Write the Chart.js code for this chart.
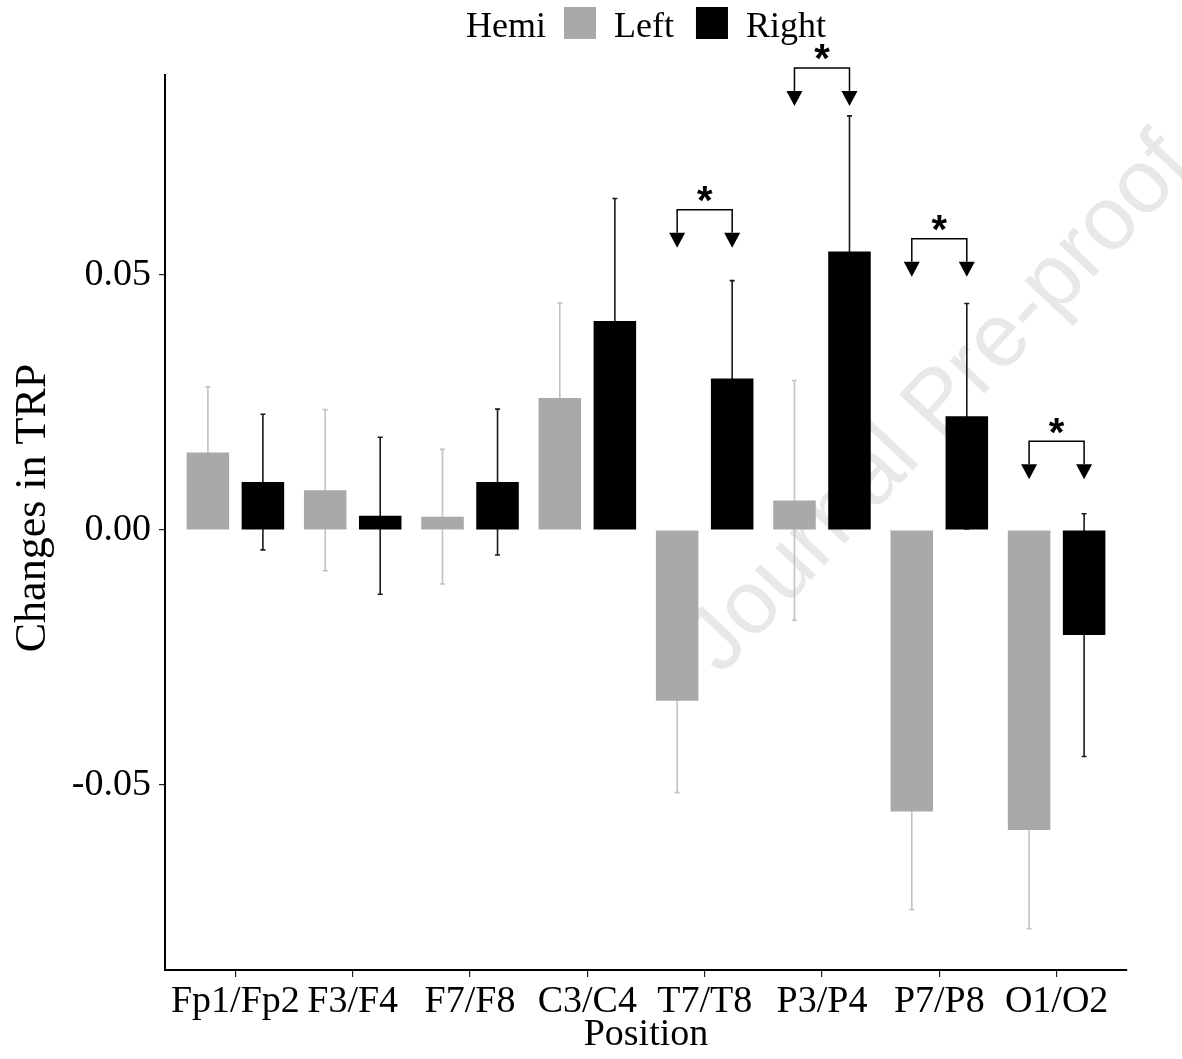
<!DOCTYPE html>
<html><head><meta charset="utf-8">
<script src="https://cdn.jsdelivr.net/npm/chart.js@4.4.1/dist/chart.umd.min.js"></script>
<style>html,body{margin:0;padding:0;background:#fff;} #wrap{width:1182px;height:1059px;position:relative;}</style>
</head><body><div id="wrap"><canvas id="c"></canvas></div>
<script>
const categories = ['Fp1/Fp2','F3/F4','F7/F8','C3/C4','T7/T8','P3/P4','P7/P8','O1/O2'];
const seriesNames = ['Left','Right'];
const leftMeans  = [0.0152, 0.0078, 0.0026, 0.0259, -0.0335, 0.0058, -0.0552, -0.0588];
const leftSE     = [0.0129, 0.0158, 0.0132, 0.0186, 0.0180, 0.0235, 0.0192, 0.0194];
const rightMeans = [0.0094, 0.0028, 0.0094, 0.0410, 0.0297, 0.0546, 0.0223, -0.0206];
const rightSE    = [0.0133, 0.0154, 0.0143, 0.0240, 0.0192, 0.0266, 0.0221, 0.0238];
const yTickValues = [-0.05, 0, 0.05];
const sigCategories = ['T7/T8','P3/P4','P7/P8','O1/O2'];
const sigLevels = [0.0628, 0.0906, 0.0571, 0.0174];
const legendTitle = 'Hemi';
const xTitle = 'Position';
const yTitle = 'Changes in TRP';
const watermarkText = 'Journal Pre-proof';

const SERIF = '"Liberation Serif", "Times New Roman", serif';

const watermarkPlugin = {
  id: 'watermark',
  beforeDatasetsDraw(chart) {
    const ctx = chart.ctx;
    ctx.save();
    ctx.translate(940, 405);
    ctx.rotate(-47 * Math.PI / 180);
    ctx.font = '90px "Liberation Sans", Arial, sans-serif';
    ctx.fillStyle = '#e8e8e8';
    ctx.textAlign = 'center';
    ctx.textBaseline = 'middle';
    ctx.fillText(watermarkText, 0, 0);
    ctx.restore();
  }
};

const errorBarPlugin = {
  id: 'errorBars',
  beforeDatasetsDraw(chart) {
    const ctx = chart.ctx;
    const ys = chart.scales.y;
    chart.data.datasets.forEach((ds, di) => {
      const meta = chart.getDatasetMeta(di);
      ctx.save();
      ctx.strokeStyle = ds.errorColor;
      ctx.lineWidth = 1.6;
      meta.data.forEach((bar, i) => {
        const m = ds.data[i].y, e = ds.errors[i];
        const yt = ys.getPixelForValue(m + e), yb = ys.getPixelForValue(m - e);
        const x = bar.x;
        ctx.beginPath();
        ctx.moveTo(x, yt); ctx.lineTo(x, yb);
        ctx.moveTo(x - 2.5, yt); ctx.lineTo(x + 2.5, yt);
        ctx.moveTo(x - 2.5, yb); ctx.lineTo(x + 2.5, yb);
        ctx.stroke();
      });
      ctx.restore();
    });
  }
};

const sigPlugin = {
  id: 'sig',
  afterDatasetsDraw(chart) {
    const ctx = chart.ctx;
    const ys = chart.scales.y;
    const m0 = chart.getDatasetMeta(0), m1 = chart.getDatasetMeta(1);
    ctx.save();
    ctx.strokeStyle = '#000';
    ctx.fillStyle = '#000';
    ctx.lineWidth = 1.5;
    sigCategories.forEach((cat, k) => {
      const idx = categories.indexOf(cat);
      const xl = m0.data[idx].x, xr = m1.data[idx].x;
      const yb = ys.getPixelForValue(sigLevels[k]);
      const base = yb + 23, tip = yb + 38;
      ctx.beginPath();
      ctx.moveTo(xl, base); ctx.lineTo(xl, yb); ctx.lineTo(xr, yb); ctx.lineTo(xr, base);
      ctx.stroke();
      [xl, xr].forEach(x => {
        ctx.beginPath();
        ctx.moveTo(x - 8, base); ctx.lineTo(x + 8, base); ctx.lineTo(x, tip); ctx.closePath();
        ctx.fill();
      });
      ctx.font = 'bold 40px "Liberation Sans", Arial, sans-serif';
      ctx.textAlign = 'center';
      ctx.textBaseline = 'alphabetic';
      const mt = ctx.measureText('*');
      const center = yb - 15.5;
      const baseline = center - (mt.actualBoundingBoxDescent - mt.actualBoundingBoxAscent) / 2;
      ctx.fillText('*', (xl + xr) / 2, baseline);
    });
    ctx.restore();
  }
};

const legendPlugin = {
  id: 'customLegend',
  afterDraw(chart) {
    const ctx = chart.ctx;
    ctx.save();
    ctx.font = '36px ' + SERIF;
    ctx.fillStyle = '#000';
    ctx.textBaseline = 'alphabetic';
    ctx.textAlign = 'left';
    const box = 32, gapTitle = 18, gapBoxText = 18, gapItem = 22;
    const items = chart.data.datasets.map(d => ({label: d.label, color: d.backgroundColor}));
    let total = ctx.measureText(legendTitle).width + gapTitle;
    items.forEach((it, i) => {
      total += box + gapBoxText + ctx.measureText(it.label).width + (i < items.length - 1 ? gapItem : 0);
    });
    const cx = (chart.chartArea.left + chart.chartArea.right) / 2;
    let x = cx - total / 2;
    const baseline = 37, boxTop = 7;
    ctx.fillText(legendTitle, x, baseline);
    x += ctx.measureText(legendTitle).width + gapTitle;
    items.forEach((it, i) => {
      ctx.fillStyle = it.color;
      ctx.fillRect(x, boxTop, box, box);
      x += box + gapBoxText;
      ctx.fillStyle = '#000';
      ctx.fillText(it.label, x, baseline);
      x += ctx.measureText(it.label).width + gapItem;
    });
    ctx.restore();
  }
};

const yTitlePlugin = {
  id: 'yTitle',
  afterDraw(chart) {
    const ctx = chart.ctx;
    ctx.save();
    ctx.translate(33, 508);
    ctx.rotate(-Math.PI / 2);
    ctx.font = '44px ' + SERIF;
    ctx.fillStyle = '#000';
    ctx.textAlign = 'center';
    ctx.textBaseline = 'middle';
    ctx.fillText(yTitle, 0, 0);
    ctx.restore();
  }
};

new Chart(document.getElementById('c'), {
  type: 'bar',
  data: {
    datasets: [
      { label: seriesNames[0], data: leftMeans.map((v, i) => ({x: i + 1, y: v})), errors: leftSE,
        backgroundColor: '#a9a9a9', errorColor: '#c2c2c2', borderWidth: 0 },
      { label: seriesNames[1], data: rightMeans.map((v, i) => ({x: i + 1, y: v})), errors: rightSE,
        backgroundColor: '#000000', errorColor: '#1a1a1a', borderWidth: 0 }
    ]
  },
  options: {
    responsive: true,
    maintainAspectRatio: false,
    animation: false,
    layout: { padding: { top: 75, right: 55, left: 0, bottom: 0 } },
    plugins: { legend: { display: false }, tooltip: { enabled: false } },
    datasets: { bar: { categoryPercentage: 0.938, barPercentage: 0.773 } },
    scales: {
      x: {
        type: 'linear', min: 0.4, max: 8.6, offset: false,
        grid: { display: true, offset: false, drawOnChartArea: false, drawTicks: true, tickLength: 7, color: '#222', lineWidth: 1.2 },
        border: { display: true, color: '#000', width: 2 },
        ticks: { font: { family: SERIF, size: 38 }, color: '#000', padding: 2, maxRotation: 0, minRotation: 0, autoSkip: false,
          callback: (v) => categories[Math.round(v) - 1] },
        afterBuildTicks: (s) => { s.ticks = categories.map((c, i) => ({ value: i + 1 })); },
        afterFit: (s) => { s.height = 89; },
        title: { display: true, text: xTitle, font: { family: SERIF, size: 38 }, color: '#000', padding: { top: 0, bottom: 1 } }
      },
      y: {
        min: -0.086275, max: 0.089216,
        grid: { display: true, drawOnChartArea: false, drawTicks: true, tickLength: 6, color: '#222', lineWidth: 1.2 },
        border: { display: true, color: '#000', width: 2 },
        ticks: { font: { family: SERIF, size: 38 }, color: '#000', padding: 8, callback: (v) => Number(v).toFixed(2) },
        afterBuildTicks: (s) => { s.ticks = yTickValues.map(v => ({ value: v })); },
        afterFit: (s) => { s.width = 165; },
        title: { display: false, text: yTitle }
      }
    }
  },
  plugins: [watermarkPlugin, errorBarPlugin, sigPlugin, legendPlugin, yTitlePlugin]
});
</script>
</body></html>
